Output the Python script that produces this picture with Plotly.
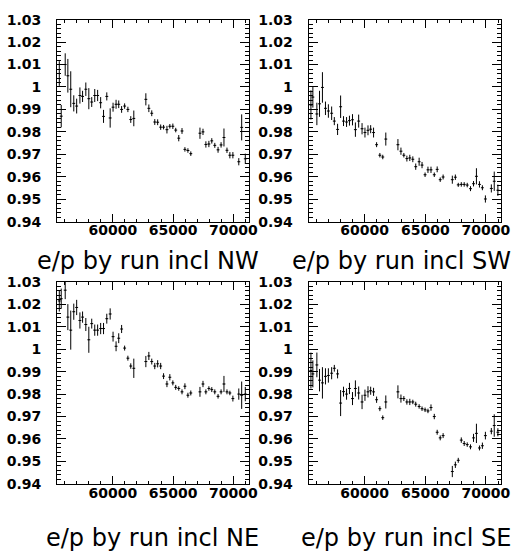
import plotly.graph_objects as go

# Run bins shared by all four quadrants (three run periods)
runs = [
    55560, 55720, 56050, 56270, 56510, 56760, 57000, 57270, 57490, 57760,
    58010, 58250, 58500, 58740, 58990, 59230, 59500, 59780, 60020, 60270,
    60490, 60730, 60980, 61250, 61490, 61740,
    62740, 62990, 63230, 63480, 63720, 63970, 64210, 64490, 64730, 64980,
    65220, 65470, 65740, 65980, 66230, 66470,
    67230, 67480, 67720, 67970, 68210, 68460, 68730, 68980, 69220, 69470,
    69710, 69960, 70450, 70690, 70990,
]
run_halfwidth = 120

# e/p per quadrant and its statistical error
ep_nw = [
    1.006, 0.987, 1.010, 1.005, 0.999, 0.9927, 0.9915, 0.9962, 0.9958, 0.999,
    0.9948, 0.9933, 0.9962, 0.9962, 0.993, 0.9869, 0.9958, 0.9862, 0.991, 0.9923,
    0.9923, 0.990, 0.9915, 0.990, 0.9855, 0.986,
    0.9945, 0.9905, 0.9883, 0.9844, 0.9843, 0.9821, 0.9821, 0.981, 0.9825, 0.9825,
    0.9808, 0.9772, 0.9804, 0.9722, 0.9717, 0.9703,
    0.9794, 0.980, 0.9744, 0.9746, 0.976, 0.974, 0.972, 0.9742, 0.9775, 0.9718,
    0.9696, 0.9696, 0.9667, 0.982, 0.968,
]
err_nw = [
    0.0055, 0.005, 0.005, 0.0075, 0.008, 0.0036, 0.0033, 0.0036, 0.0025, 0.003,
    0.0047, 0.0022, 0.0029, 0.0025, 0.0025, 0.0029, 0.0018, 0.0043, 0.002, 0.002,
    0.0017, 0.0015, 0.0012, 0.0012, 0.0015, 0.0035,
    0.0027, 0.0017, 0.0013, 0.0013, 0.0013, 0.0012, 0.001, 0.0017, 0.001, 0.0012,
    0.001, 0.0014, 0.0013, 0.001, 0.001, 0.001,
    0.0025, 0.0014, 0.0014, 0.0014, 0.0012, 0.0011, 0.0013, 0.0012, 0.004, 0.0012,
    0.0014, 0.0014, 0.0016, 0.0058, 0.0023,
]

ep_sw = [
    0.992, 0.9955, 0.988, 0.9925, 0.9998, 0.9905, 0.9893, 0.9883, 0.9848, 0.9811,
    0.9912, 0.9848, 0.9844, 0.985, 0.9854, 0.981, 0.9848, 0.9814, 0.9797, 0.9807,
    0.9812, 0.9797, 0.9743, 0.9696, 0.9688, 0.9768,
    0.9743, 0.9714, 0.9696, 0.9681, 0.9684, 0.9678, 0.9645, 0.9667, 0.9652, 0.9609,
    0.9631, 0.9631, 0.9609, 0.9633, 0.9587, 0.9599,
    0.9587, 0.9598, 0.9564, 0.9566, 0.9566, 0.9563, 0.9547, 0.9569, 0.9602, 0.9566,
    0.9551, 0.9501, 0.9548, 0.958, 0.954,
]
err_sw = [
    0.0065, 0.0047, 0.005, 0.0058, 0.0068, 0.003, 0.003, 0.003, 0.0018, 0.0025,
    0.005, 0.0022, 0.0022, 0.0022, 0.0025, 0.0032, 0.0029, 0.0025, 0.0022, 0.0022,
    0.0018, 0.0022, 0.0011, 0.001, 0.001, 0.0029,
    0.0025, 0.0016, 0.001, 0.0013, 0.0014, 0.0013, 0.0014, 0.0018, 0.0014, 0.001,
    0.0014, 0.0014, 0.001, 0.0013, 0.001, 0.0011,
    0.0018, 0.0012, 0.0009, 0.001, 0.001, 0.001, 0.0011, 0.0012, 0.0036, 0.0014,
    0.0011, 0.0016, 0.0018, 0.0043, 0.0025,
]

ep_ne = [
    1.0215, 1.0225, 1.0263, 1.0143, 1.0085, 1.0167, 1.0186, 1.0128, 1.0143, 1.011,
    1.0042, 1.0114, 1.0085, 1.0085, 1.0092, 1.0092, 1.0136, 1.0157, 1.0056, 1.0013,
    1.0049, 1.009, 1.0005, 0.996, 0.9925, 0.9915,
    0.9945, 0.997, 0.9945, 0.9925, 0.9935, 0.9925, 0.988, 0.9845, 0.9875, 0.985,
    0.983, 0.9825, 0.981, 0.9835, 0.9795, 0.9805,
    0.981, 0.9845, 0.981, 0.9825, 0.982, 0.981, 0.979, 0.981, 0.9845, 0.981,
    0.9805, 0.978, 0.980, 0.9795, 0.980,
]
err_ne = [
    0.0047, 0.0045, 0.004, 0.0058, 0.0087, 0.0036, 0.0034, 0.0036, 0.0025, 0.0029,
    0.0058, 0.0022, 0.0025, 0.0025, 0.0025, 0.0025, 0.0022, 0.0025, 0.0022, 0.0022,
    0.0022, 0.0018, 0.0011, 0.0011, 0.0012, 0.0043,
    0.0025, 0.0018, 0.0013, 0.0014, 0.0016, 0.0014, 0.0013, 0.0014, 0.0014, 0.0011,
    0.0011, 0.001, 0.0011, 0.0013, 0.0011, 0.0011,
    0.0022, 0.0014, 0.0011, 0.001, 0.0011, 0.0011, 0.001, 0.0011, 0.0036, 0.0011,
    0.001, 0.0013, 0.0025, 0.0061, 0.0032,
]

ep_se = [
    0.9905, 0.989, 0.993, 0.9862, 0.985, 0.9879, 0.9883, 0.9893, 0.9915, 0.989,
    0.976, 0.9811, 0.980, 0.9825, 0.978, 0.9825, 0.9805, 0.9765, 0.9795, 0.981,
    0.9815, 0.981, 0.9775, 0.9735, 0.9695, 0.9765,
    0.981, 0.978, 0.978, 0.9765, 0.9765, 0.9765, 0.9755, 0.9745, 0.9735, 0.973,
    0.9725, 0.974, 0.970, 0.963, 0.9605, 0.9615,
    0.9455, 0.9485, 0.9505, 0.9595, 0.958, 0.9575, 0.9565, 0.9605, 0.9625, 0.956,
    0.957, 0.9615, 0.9635, 0.966, 0.963,
]
err_se = [
    0.008, 0.006, 0.0055, 0.005, 0.007, 0.0036, 0.0032, 0.0027, 0.0015, 0.002,
    0.0058, 0.0022, 0.0025, 0.0025, 0.0029, 0.0036, 0.0029, 0.0032, 0.0025, 0.0025,
    0.0018, 0.0018, 0.0014, 0.0011, 0.001, 0.0029,
    0.0029, 0.0018, 0.0011, 0.0012, 0.0014, 0.001, 0.0011, 0.001, 0.001, 0.001,
    0.001, 0.0014, 0.0012, 0.0011, 0.0011, 0.0011,
    0.0025, 0.0014, 0.0011, 0.0012, 0.0011, 0.001, 0.0011, 0.0018, 0.0043, 0.0011,
    0.0014, 0.0017, 0.0014, 0.005, 0.0018,
]

titles = ["e/p by run incl NW", "e/p by run incl SW",
          "e/p by run incl NE", "e/p by run incl SE"]
series = [(ep_nw, err_nw), (ep_sw, err_sw), (ep_ne, err_ne), (ep_se, err_se)]

x_tickvals = [60000, 65000, 70000]
x_ticktext = ["60000", "65000", "70000"]
y_tickvals = [0.94, 0.95, 0.96, 0.97, 0.98, 0.99, 1.00, 1.01, 1.02, 1.03]
y_ticktext = ["0.94", "0.95", "0.96", "0.97", "0.98", "0.99", "1", "1.01", "1.02", "1.03"]
x_range = [55370, 71270]
y_range = [0.94, 1.03]

W, H = 526, 555
# pixel frames of the four pads: (left, right, top, bottom)
pads = [(58, 253, 12, 220), (314, 510, 12, 220),
        (58, 253, 282, 490), (314, 510, 282, 490)]
# title boxes: (right edge px, vertical centre px)
title_pos = [(266, 261), (522, 261), (266, 546), (522, 546)]

tick_font = dict(family="DejaVu Sans", size=14, color="black", weight="bold")
title_font = dict(family="DejaVu Sans", size=24, color="black")

fig = go.Figure()
layout = dict(
    width=W, height=H, margin=dict(l=0, r=0, t=0, b=0),
    paper_bgcolor="white", plot_bgcolor="white", showlegend=False,
    annotations=[],
)

for i, ((ys, es), (l, r, t, b)) in enumerate(zip(series, pads)):
    n = "" if i == 0 else str(i + 1)
    fig.add_trace(go.Scatter(
        x=runs, y=ys, mode="markers",
        marker=dict(size=1, color="black"),
        error_y=dict(type="data", array=es, color="black", thickness=1, width=0),
        error_x=dict(type="constant", value=run_halfwidth, color="black",
                     thickness=1, width=0),
        xaxis="x" + n, yaxis="y" + n, cliponaxis=True,
    ))
    layout["xaxis" + n] = dict(
        domain=[l / W, r / W], anchor="y" + n, range=x_range,
        showline=True, linecolor="black", linewidth=1, mirror="ticks",
        ticks="inside", ticklen=8, tickcolor="black", tickwidth=1,
        tickvals=x_tickvals, ticktext=x_ticktext, tickfont=tick_font,
        ticklabelstandoff=-4,
        minor=dict(dtick=1000, tick0=0, ticks="inside", ticklen=3,
                   tickcolor="black", tickwidth=1, showgrid=False),
        showgrid=False, zeroline=False,
    )
    layout["yaxis" + n] = dict(
        domain=[1 - b / H, 1 - t / H], anchor="x" + n, range=y_range,
        showline=True, linecolor="black", linewidth=1, mirror="ticks",
        ticks="inside", ticklen=9, tickcolor="black", tickwidth=1,
        tickvals=y_tickvals, ticktext=y_ticktext, tickfont=tick_font,
        ticklabelstandoff=12,
        minor=dict(dtick=0.002, tick0=0.94, ticks="inside", ticklen=4,
                   tickcolor="black", tickwidth=1, showgrid=False),
        showgrid=False, zeroline=False,
    )
    rx, cy = title_pos[i]
    layout["annotations"].append(dict(
        text=titles[i], xref="paper", yref="paper",
        x=rx / W, y=1 - cy / H, xanchor="right", yanchor="middle",
        showarrow=False, font=title_font,
    ))

fig.update_layout(**layout)
fig.write_html("out.html")
